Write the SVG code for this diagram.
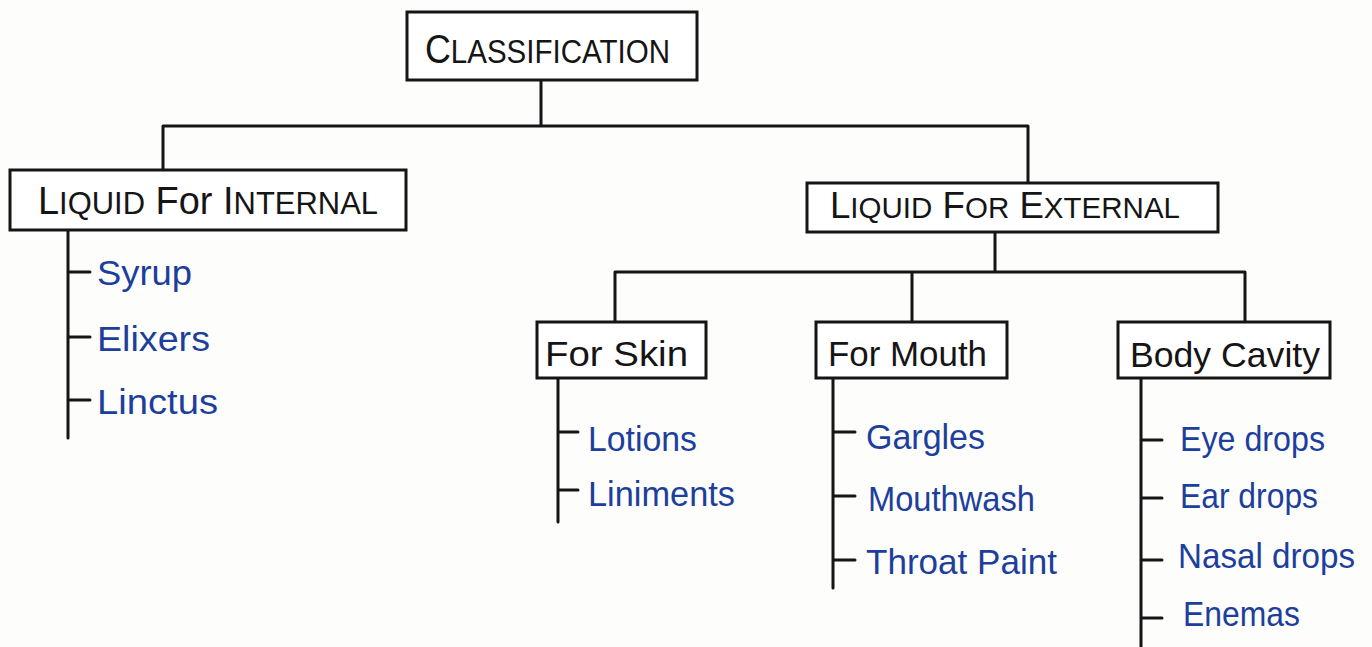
<svg xmlns="http://www.w3.org/2000/svg" width="1372" height="647" viewBox="0 0 1372 647">
<style>
.box{fill:#fff;stroke:#151515;stroke-width:3}
.ln{stroke:#151515;stroke-width:3;fill:none;stroke-linecap:round}
.h{font-family:"Liberation Sans",Arial,sans-serif;fill:#151515}
.b{font-family:"Liberation Sans",Arial,sans-serif;fill:#1d3f9c;font-size:35px}
</style>
<rect width="1372" height="647" fill="#fdfdfc"/>
<g id="connectors">
<path class="ln" d="M541 80V126M163 126H1028M163 126V170M1028 126V183"/>
<path class="ln" d="M995 232V272M615 272H1245M615 272V322M912 272V322M1245 272V322"/>
<path class="ln" d="M68 230V438M68 272H90M68 337H90M68 400H90"/>
<path class="ln" d="M558 378V522M558 432H578M558 490H578"/>
<path class="ln" d="M833 378V588M833 432H855M833 496H855M833 560H855"/>
<path class="ln" d="M1141 378V647M1141 440H1162M1141 498H1162M1141 560H1162M1141 618H1162"/>
</g>
<g id="classification">
<rect class="box" x="407" y="12" width="290" height="68"/>
<text class="h" x="425" y="63" font-size="40" textLength="245" lengthAdjust="spacingAndGlyphs">C<tspan font-size="33">LASSIFICATION</tspan></text>
</g>
<g id="internal">
<rect class="box" x="10" y="170" width="396" height="60"/>
<text class="h" x="38" y="214" font-size="38" textLength="340" lengthAdjust="spacingAndGlyphs">L<tspan font-size="31">IQUID</tspan>  For  I<tspan font-size="31">NTERNAL</tspan></text>
</g>
<g id="external">
<rect class="box" x="807" y="183" width="411" height="49"/>
<text class="h" x="830" y="218" font-size="36" textLength="350" lengthAdjust="spacingAndGlyphs">L<tspan font-size="29">IQUID</tspan>  F<tspan font-size="29">OR</tspan>  E<tspan font-size="29">XTERNAL</tspan></text>
</g>
<g id="skin">
<rect class="box" x="537" y="322" width="169" height="56"/>
<text class="h" x="545" y="366" font-size="35" textLength="143" lengthAdjust="spacingAndGlyphs">For  Skin</text>
</g>
<g id="mouth">
<rect class="box" x="816" y="322" width="191" height="56"/>
<text class="h" x="828" y="366" font-size="35" textLength="159" lengthAdjust="spacingAndGlyphs">For  Mouth</text>
</g>
<g id="cavity">
<rect class="box" x="1118" y="322" width="212" height="56"/>
<text class="h" x="1130" y="367" font-size="35" textLength="190" lengthAdjust="spacingAndGlyphs">Body  Cavity</text>
</g>
<g id="internal-items">
<text class="b" x="97" y="285" textLength="95" lengthAdjust="spacingAndGlyphs">Syrup</text>
<text class="b" x="97" y="351" textLength="113" lengthAdjust="spacingAndGlyphs">Elixers</text>
<text class="b" x="97" y="414" textLength="121" lengthAdjust="spacingAndGlyphs">Linctus</text>
</g>
<g id="skin-items">
<text class="b" x="588" y="451" textLength="109" lengthAdjust="spacingAndGlyphs">Lotions</text>
<text class="b" x="588" y="506" textLength="147" lengthAdjust="spacingAndGlyphs">Liniments</text>
</g>
<g id="mouth-items">
<text class="b" x="866" y="449" textLength="119" lengthAdjust="spacingAndGlyphs">Gargles</text>
<text class="b" x="868" y="511" textLength="167" lengthAdjust="spacingAndGlyphs">Mouthwash</text>
<text class="b" x="866" y="574" textLength="191" lengthAdjust="spacingAndGlyphs">Throat Paint</text>
</g>
<g id="cavity-items">
<text class="b" x="1180" y="451" textLength="145" lengthAdjust="spacingAndGlyphs">Eye drops</text>
<text class="b" x="1180" y="508" textLength="138" lengthAdjust="spacingAndGlyphs">Ear drops</text>
<text class="b" x="1178" y="568" textLength="177" lengthAdjust="spacingAndGlyphs">Nasal drops</text>
<text class="b" x="1183" y="626" textLength="117" lengthAdjust="spacingAndGlyphs">Enemas</text>
</g>
</svg>
